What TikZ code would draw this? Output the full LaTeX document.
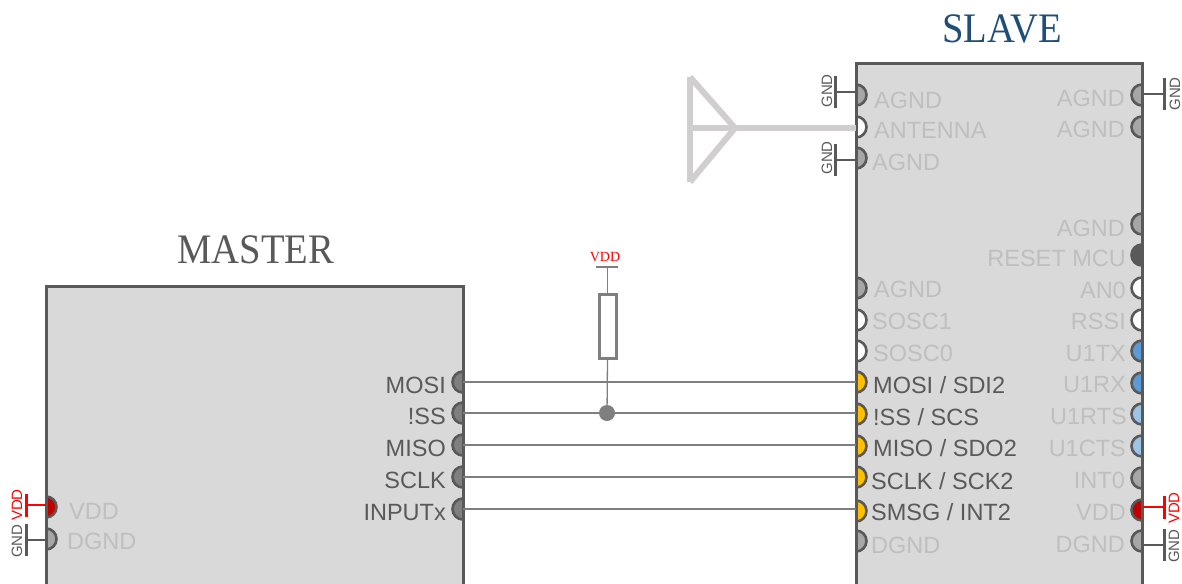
\documentclass[tikz,border=0pt]{standalone}
\usepackage{fontspec}
\setmainfont{Liberation Sans}
\newfontfamily\titlefont{Liberation Serif}
\definecolor{edge}{HTML}{595959}
\definecolor{bodyfill}{HTML}{D9D9D9}
\definecolor{faded}{HTML}{BFBFBF}
\definecolor{antc}{HTML}{D0CECE}
\definecolor{wirec}{HTML}{7F7F7F}
\definecolor{pgray}{HTML}{A6A6A6}
\definecolor{pdark}{HTML}{7F7F7F}
\definecolor{pyel}{HTML}{FFC000}
\definecolor{pblue}{HTML}{5B9BD5}
\definecolor{plblue}{HTML}{9DC3E6}
\definecolor{pred}{HTML}{C00000}
\definecolor{titleblue}{HTML}{1F4E79}
\newcommand\pinR[4]{\coordinate (#1) at (#2,#3);
  \filldraw[pinline,fill=#4] (#2,#3+10.5) arc[start angle=90,end angle=-90,radius=10.5];}
\newcommand\pinL[4]{\coordinate (#1) at (#2,#3);
  \filldraw[pinline,fill=#4] (#2,#3+10.5) arc[start angle=90,end angle=270,radius=10.5];}
\newcommand\lblW[5]{\node[pinlabel,anchor=west,text=#1] (#2) at (#3,#4) {#5};}
\newcommand\lblE[5]{\node[pinlabel,anchor=east,text=#1] (#2) at (#3,#4) {#5};}
\newcommand\railsym[6]{% name, stub y, pin x, bar x, half-height, colour
  \coordinate (#1a) at (#3,#2); \coordinate (#1b) at (#4,#2);
  \draw[railline,#6] (#1a) -- (#1b);
  \draw[barline,#6] (#4,#2-#5) -- (#4,#2+#5);}
\begin{document}
\begin{tikzpicture}[x=1pt,y=-1pt,
  block/.style={draw=edge,fill=bodyfill,line width=3pt,inner sep=0pt,outer sep=0pt,anchor=north west},
  blockedge/.style={draw=edge,line width=3pt},
  pinline/.style={draw=edge,line width=2.6pt},
  pinlabel/.style={font=\fontsize{23.5}{24}\selectfont,inner sep=0pt,text height=17pt,text depth=0pt},
  title/.style={font=\titlefont\fontsize{42}{44}\selectfont,inner sep=0pt,xscale=0.92},
  railtext/.style={font=\fontsize{15}{16}\selectfont,inner sep=0pt,rotate=90},
  railline/.style={line width=2.4pt},
  barline/.style={line width=3pt},
  wire/.style={draw=wirec,line width=1.3pt},
  antenna/.style={draw=antc,line width=6pt,line join=miter}]
\clip (0,0) rectangle (1182,583);
% blocks
\node[block,minimum width=417pt,minimum height=299pt] (master) at (46,286) {};
\node[block,minimum width=286pt,minimum height=521pt] (slave) at (856,64) {};
\node[title,text=edge] (mastertitle) at (256,250) {MASTER};
\node[title,text=titleblue] (slavetitle) at (1002,29) {SLAVE};
% slave left pins
\pinR{sl1}{856}{95}{pgray}\pinR{sl2}{856}{127}{white}\pinR{sl3}{856}{158}{pgray}
\pinR{sl4}{856}{288}{pgray}\pinR{sl5}{856}{320}{white}\pinR{sl6}{856}{351}{white}
\pinR{smosi}{856}{382}{pyel}\pinR{sss}{856}{414}{pyel}\pinR{smiso}{856}{446}{pyel}
\pinR{ssclk}{856}{477}{pyel}\pinR{ssmsg}{856}{511}{pyel}\pinR{sl12}{856}{541}{pgray}
% slave right pins
\pinL{sr1}{1142}{95}{pgray}\pinL{sr2}{1142}{127}{pgray}\pinL{sr3}{1142}{224}{pgray}
\pinL{sr4}{1142}{255}{edge}\pinL{sr5}{1142}{288}{white}\pinL{sr6}{1142}{320}{white}
\pinL{sr7}{1142}{351}{pblue}\pinL{sr8}{1142}{383}{pblue}\pinL{sr9}{1142}{414}{plblue}
\pinL{sr10}{1142}{446}{plblue}\pinL{sr11}{1142}{478}{pgray}\pinL{sr12}{1142}{510}{pred}
\pinL{sr13}{1142}{541}{pgray}
% master pins
\pinL{mmosi}{463}{382}{pdark}\pinL{mss}{463}{413}{pdark}\pinL{mmiso}{463}{445}{pdark}
\pinL{msclk}{463}{477}{pdark}\pinL{minput}{463}{509}{pdark}
\pinR{mvdd}{46}{507}{pred}\pinR{mgnd}{46}{539}{pgray}
% block edges over the pins
\draw[blockedge] (master.north west) rectangle (master.south east);
\draw[blockedge] (slave.north west) rectangle (slave.south east);
% labels, slave left
\lblW{faded}{a1}{874}{100}{AGND}\lblW{faded}{a2}{874}{130}{ANTENNA}\lblW{faded}{a3}{872}{162}{AGND}
\lblW{faded}{a4}{874}{289}{AGND}\lblW{faded}{a5}{872}{321}{SOSC1}\lblW{faded}{a6}{873}{353}{SOSC0}
\lblW{edge}{a7}{873}{385}{MOSI / SDI2}\lblW{edge}{a8}{873}{417}{!SS / SCS}
\lblW{edge}{a9}{873}{448}{MISO / SDO2}\lblW{edge}{a10}{871}{481}{SCLK / SCK2}
\lblW{edge}{a11}{871}{512}{SMSG / INT2}\lblW{faded}{a12}{871}{545}{DGND}
% labels, slave right
\lblE{faded}{b1}{1125}{98}{AGND}\lblE{faded}{b2}{1125}{129}{AGND}\lblE{faded}{b3}{1125}{228}{AGND}
\lblE{faded}{b4}{1126}{258}{RESET MCU}\lblE{faded}{b5}{1126}{290}{AN0}\lblE{faded}{b6}{1126}{321}{RSSI}
\lblE{faded}{b7}{1126}{353}{U1TX}\lblE{faded}{b8}{1126}{384}{U1RX}\lblE{faded}{b9}{1127}{416}{U1RTS}
\lblE{faded}{b10}{1126}{448}{U1CTS}\lblE{faded}{b11}{1125}{480}{INT0}\lblE{faded}{b12}{1126}{512}{VDD}
\lblE{faded}{b13}{1125}{544}{DGND}
% labels, master
\lblE{edge}{c1}{446}{385}{MOSI}\lblE{edge}{c2}{446}{416}{!SS}\lblE{edge}{c3}{446}{448}{MISO}
\lblE{edge}{c4}{446}{480}{SCLK}\lblE{edge}{c5}{446}{512}{INPUTx}
\lblW{faded}{c6}{69}{511}{VDD}\lblW{faded}{c7}{67}{541}{DGND}
% supply symbols
\railsym{g1}{92}{856}{835}{16}{edge}\node[railtext,text=edge] (g1t) at (827,91) {GND};
\railsym{g2}{160}{856}{835}{16}{edge}\node[railtext,text=edge] (g2t) at (827,158) {GND};
\railsym{g3}{94}{1143}{1164}{16}{edge}\node[railtext,text=edge] (g3t) at (1175,94) {GND};
\railsym{g4}{507}{1143}{1164}{11.5}{red}\node[railtext,text=red] (g4t) at (1174,508) {VDD};
\railsym{g5}{545}{1143}{1164}{16}{edge}\node[railtext,text=edge] (g5t) at (1174,546) {GND};
\railsym{g6}{505}{46}{26}{11.5}{red}\node[railtext,text=red] (g6t) at (17,505) {VDD};
\railsym{g7}{540}{46}{26}{16}{edge}\node[railtext,text=edge] (g7t) at (17,541) {GND};
% antenna
\coordinate (anttop) at (690,77);
\coordinate (antbot) at (690,182);
\coordinate (antmid) at (690,128);
\coordinate (antapex) at (735,128);
\draw[antenna] (anttop) -- (antbot);
\draw[antenna] (anttop) -- (antapex) -- (antbot);
\draw[antenna] (antmid) -- (antapex) -- (sl2 |- antapex);
% bus
\draw[wire] (mmosi) -- (mmosi -| smosi);
\draw[wire] (mss) -- (mss -| sss);
\draw[wire] (mmiso) -- (mmiso -| smiso);
\draw[wire] (msclk) -- (msclk -| ssclk);
\draw[wire] (minput) -- (minput -| ssmsg);
% pull-up
\node[draw=wirec,fill=white,line width=3pt,minimum width=17pt,minimum height=64pt,inner sep=0pt] (pullup) at (607.5,326.5) {};
\coordinate (vddbar) at (607.5,267);
\coordinate (junction) at (607,413);
\fill[wirec] (junction) circle[radius=8];
\draw[wire] (vddbar) -- (pullup.north);
\draw[wire] (pullup.south) -- (junction);
\draw[draw=wirec,line width=2.6pt] (596,267) -- (618,267);
\node[font=\titlefont\fontsize{14}{15}\selectfont,text=red,inner sep=0pt] (vddlabel) at (605,257) {VDD};
\end{tikzpicture}
\end{document}
